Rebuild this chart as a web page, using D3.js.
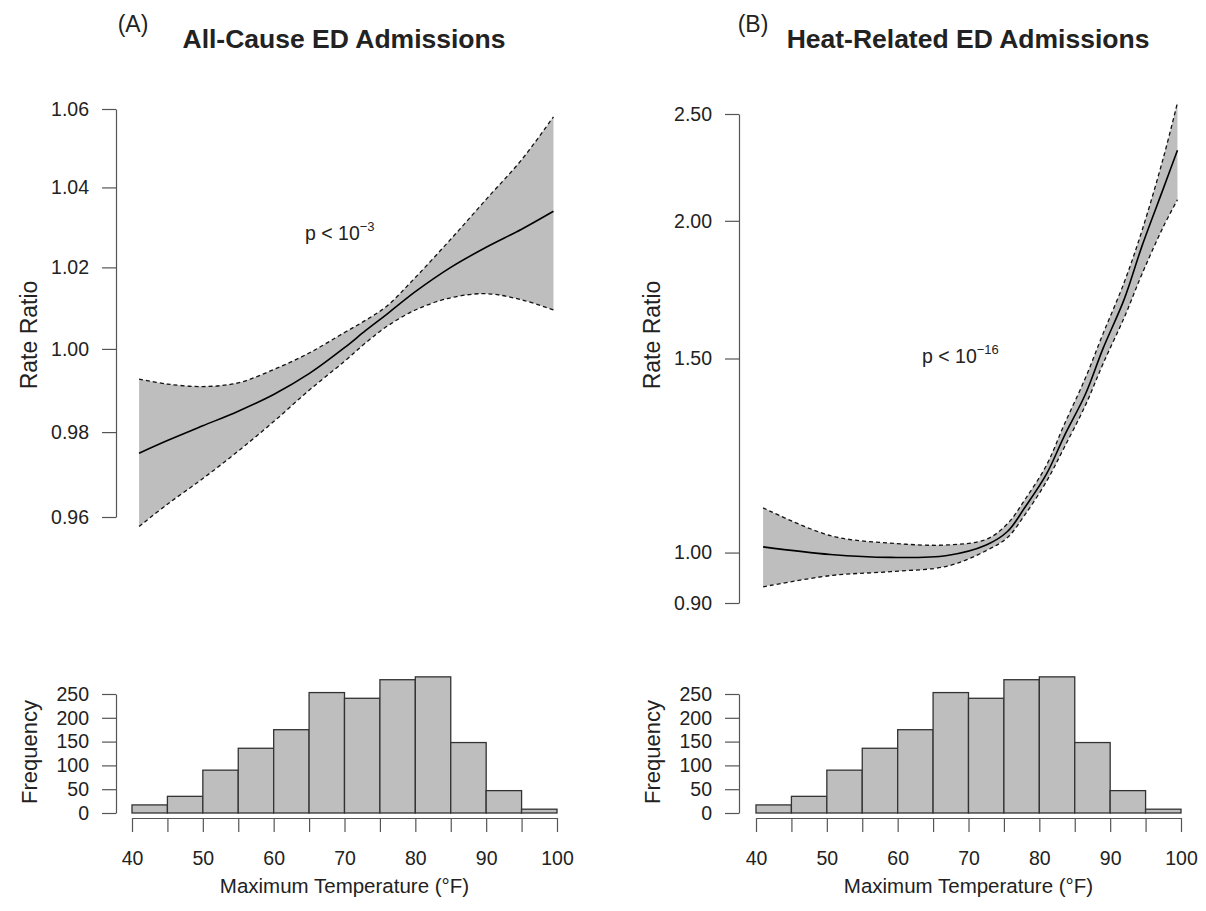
<!DOCTYPE html>
<html>
<head>
<meta charset="utf-8">
<script src="https://cdn.jsdelivr.net/npm/d3@7/dist/d3.min.js"></script>
<style>
body { margin: 0; background: #fff; }
svg text { font-family: "Liberation Sans", Arial, Helvetica, sans-serif; fill: #222; }
</style>
</head>
<body>
<svg></svg>
<script>
// (A) all-cause: rate ratio
let tempsA = [41, 45, 50, 55, 60, 65, 70, 73, 76, 80, 85, 90, 95, 99.5];
let fitA   = [0.975, 0.978, 0.9815, 0.985, 0.989, 0.994, 1.0003, 1.0045, 1.0085, 1.014, 1.020, 1.025, 1.0295, 1.034];
let upperA = [0.9927, 0.9915, 0.9909, 0.9918, 0.995, 0.999, 1.004, 1.007, 1.0105, 1.0175, 1.027, 1.037, 1.047, 1.058];
let lowerA = [0.9578, 0.963, 0.969, 0.9755, 0.9825, 0.990, 0.997, 1.0015, 1.0055, 1.0095, 1.0125, 1.0135, 1.012, 1.0095];

// (B) heat-related
let tempsB = [41, 50.5, 59, 67, 72.5, 75.5, 78, 81, 83.5, 86.5, 89, 92, 94.5, 97.5, 99.5];
let fitB   = [1.012, 0.996, 0.990, 0.994, 1.016, 1.045, 1.10, 1.178, 1.275, 1.392, 1.532, 1.699, 1.898, 2.139, 2.318];
let upperB = [1.098, 1.036, 1.020, 1.016, 1.028, 1.062, 1.118, 1.20, 1.306, 1.44, 1.58, 1.76, 1.96, 2.28, 2.56];
let lowerB = [0.931, 0.953, 0.961, 0.972, 1.004, 1.032, 1.083, 1.16, 1.245, 1.36, 1.484, 1.635, 1.79, 1.975, 2.09];

let yTicksA = [0.96, 0.98, 1.00, 1.02, 1.04, 1.06];
let yTicksB = [0.90, 1.00, 1.50, 2.00, 2.50];

// histogram of maximum temperature (same in both panels)
let binStarts = [40, 45, 50, 55, 60, 65, 70, 75, 80, 85, 90, 95];
let counts    = [17, 35, 90, 136, 175, 253, 241, 280, 286, 148, 47, 8];
let freqTicks = [0, 50, 100, 150, 200, 250];
let tempTicks = [40, 45, 50, 55, 60, 65, 70, 75, 80, 85, 90, 95, 100];
let binWidth = 5;

let width = 1206;
let height = 911;

let svg = d3.select("svg").attr("width", width).attr("height", height);

let panels = [
    { letter: "(A)", title: "All-Cause ED Admissions", temps: tempsA, fit: fitA, upper: upperA, lower: lowerA,
      yTicks: yTicksA, left: 116, x0: 132, x1: 557, yTop: 109, yBot: 517, letterX: 133, titleX: 344, labelX: 29,
      p: "3", pX: 305, pY: 240 },
    { letter: "(B)", title: "Heat-Related ED Admissions", temps: tempsB, fit: fitB, upper: upperB, lower: lowerB,
      yTicks: yTicksB, left: 739, x0: 756, x1: 1181, yTop: 114, yBot: 603, letterX: 753, titleX: 968, labelX: 652,
      p: "16", pX: 922, pY: 363 }
];

let styleAxis = (g) => {
    g.select(".domain").attr("stroke", "#555").attr("stroke-width", 1.2);
    g.selectAll(".tick line").attr("stroke", "#555").attr("stroke-width", 1.2);
    g.selectAll(".tick text").style("font-size", "19.5px").attr("fill", "#222");
}

let drawPanel = (p) => {
    let xScale = d3.scaleLinear().domain([40, 100]).range([p.x0, p.x1]);
    let yScale = d3.scaleLog().domain([d3.min(p.yTicks), d3.max(p.yTicks)]).range([p.yBot, p.yTop]);

    // headings
    svg.append("text").attr("x", p.letterX).attr("y", 32).attr("text-anchor", "middle")
       .style("font-size", "23px").text(p.letter);
    svg.append("text").attr("x", p.titleX).attr("y", 48).attr("text-anchor", "middle")
       .style("font-size", "26.5px").style("font-weight", "bold").attr("fill", "#111").text(p.title);

    // confidence band
    let pts = p.temps.map((t, i) => ({ t: t, fit: p.fit[i], up: p.upper[i], lo: p.lower[i] }));
    let curve = d3.curveCatmullRom.alpha(0.5);
    let area = d3.area().curve(curve)
                 .x(d => xScale(d.t)).y0(d => yScale(d.lo)).y1(d => yScale(d.up));
    svg.append("path").datum(pts).attr("d", area).attr("fill", "#bebebe");

    let line = (key) => d3.line().curve(curve).x(d => xScale(d.t)).y(d => yScale(d[key]));
    ["up", "lo"].forEach(k => {
        svg.append("path").datum(pts).attr("d", line(k)).attr("fill", "none")
           .attr("stroke", "#111").attr("stroke-width", 1.3).attr("stroke-dasharray", "4,3");
    });
    svg.append("path").datum(pts).attr("d", line("fit")).attr("fill", "none")
       .attr("stroke", "#000").attr("stroke-width", 1.6);

    let yAxis = d3.axisLeft(yScale).tickValues(p.yTicks).tickFormat(d3.format(".2f"))
                  .tickSize(14).tickPadding(13).tickSizeOuter(0);
    svg.append("g").attr("transform", "translate(" + p.left + ",0)").call(yAxis).call(styleAxis);

    svg.append("text").attr("transform", "translate(" + p.labelX + ",335) rotate(-90)")
       .attr("text-anchor", "middle").attr("dy", "0.35em").style("font-size", "23px").text("Rate Ratio");

    let pt = svg.append("text").attr("x", p.pX).attr("y", p.pY).style("font-size", "19.5px");
    pt.append("tspan").text("p < 10");
    pt.append("tspan").attr("dy", -9).style("font-size", "13px").text("\u2212" + p.p);

    // histogram
    let hY = d3.scaleLinear().domain([0, 250]).range([813, 694]);
    svg.append("g").selectAll("rect")
       .data(binStarts)
       .enter()
       .append("rect")
       .attr("x", d => xScale(d))
       .attr("width", xScale(binWidth) - xScale(0))
       .attr("y", (d, i) => hY(counts[i]))
       .attr("height", (d, i) => hY(0) - hY(counts[i]))
       .attr("fill", "#bebebe")
       .attr("stroke", "#333")
       .attr("stroke-width", 1.3);

    let hyAxis = d3.axisLeft(hY).tickValues(freqTicks).tickFormat(d3.format("d"))
                   .tickSize(14).tickPadding(13).tickSizeOuter(0);
    svg.append("g").attr("transform", "translate(" + p.left + ",0)").call(hyAxis).call(styleAxis);

    let hxAxis = d3.axisBottom(xScale).tickValues(tempTicks)
                   .tickFormat(d => d % 10 === 0 ? d : "")
                   .tickSize(14).tickPadding(19).tickSizeOuter(0);
    svg.append("g").attr("transform", "translate(0,818)").call(hxAxis).call(styleAxis);

    svg.append("text").attr("transform", "translate(" + p.labelX + ",752) rotate(-90)")
       .attr("text-anchor", "middle").attr("dy", "0.35em").style("font-size", "22px").text("Frequency");

    svg.append("text").attr("x", (p.x0 + p.x1) / 2).attr("y", 893).attr("text-anchor", "middle")
       .style("font-size", "20.5px").text("Maximum Temperature (\u00b0F)");
}

panels.forEach(drawPanel);
</script>
</body>
</html>
